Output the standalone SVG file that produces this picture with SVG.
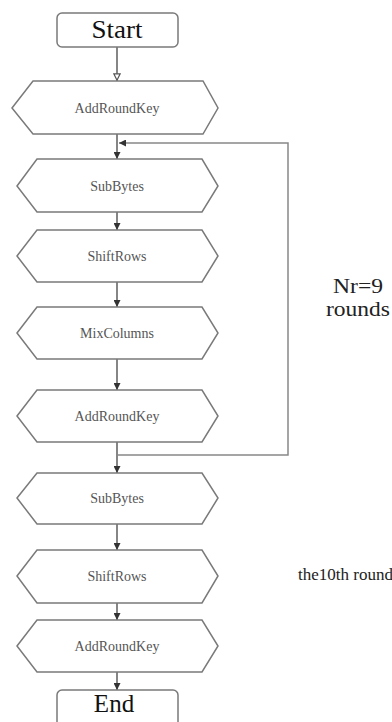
<svg xmlns="http://www.w3.org/2000/svg" width="392" height="722" viewBox="0 0 392 722">
<defs>
<marker id="fill" viewBox="0 0 10 10" refX="10" refY="5" markerWidth="7" markerHeight="7" markerUnits="userSpaceOnUse" orient="auto">
<path d="M0,0 L10,5 L0,10 Z" fill="#333"/>
</marker>
<marker id="hollow" viewBox="0 0 10 10" refX="10" refY="5" markerWidth="8" markerHeight="8" markerUnits="userSpaceOnUse" orient="auto">
<path d="M1,1 L9,5 L1,9 Z" fill="#fff" stroke="#555" stroke-width="1.5"/>
</marker>
<style>
.hex{fill:#fff;stroke:#7a7a7a;stroke-width:1.5}
.term{fill:#fff;stroke:#7a7a7a;stroke-width:1.5}
.lbl{font-size:14px;fill:#555;text-anchor:middle}
.big{font-size:25px;fill:#111;text-anchor:middle}
.side{font-size:21px;fill:#222;text-anchor:middle}
.c{fill:none;stroke:#444;stroke-width:1.3}
.loop{fill:none;stroke:#888;stroke-width:1.5}
</style>
</defs>
<rect width="392" height="722" fill="#fff"/>
<g id="connectors">
<path class="c" d="M117,47 V81" marker-end="url(#hollow)"/>
<path class="c" d="M117,134 V159" marker-end="url(#fill)"/>
<path class="c" d="M117,212 V230" marker-end="url(#fill)"/>
<path class="c" d="M117,282 V307" marker-end="url(#fill)"/>
<path class="c" d="M117,359 V390" marker-end="url(#fill)"/>
<path class="c" d="M117,442 V473" marker-end="url(#fill)"/>
<path class="c" d="M117,524 V550" marker-end="url(#fill)"/>
<path class="c" d="M117,603 V620" marker-end="url(#fill)"/>
<path class="c" d="M117,672 V690" marker-end="url(#fill)"/>
<path class="loop" d="M118,455 H288 V143 H119" marker-end="url(#fill)"/>
</g>
<g font-family="Liberation Serif, DejaVu Serif, Times New Roman, serif">
<g id="start"><rect class="term" x="57" y="13" width="121" height="34" rx="5"/><text class="big" x="117" y="38" textLength="51" lengthAdjust="spacingAndGlyphs">Start</text></g>
<g id="addroundkey1"><polygon class="hex" points="12,108 33,81 203,81 218,108 203,134 33,134"/><text class="lbl" x="117" y="113">AddRoundKey</text></g>
<g id="subbytes1"><polygon class="hex" points="17,186 37,159 202,159 218,186 202,212 37,212"/><text class="lbl" x="117" y="191">SubBytes</text></g>
<g id="shiftrows1"><polygon class="hex" points="17,256 37,230 202,230 218,256 202,282 37,282"/><text class="lbl" x="117" y="261">ShiftRows</text></g>
<g id="mixcolumns"><polygon class="hex" points="17,333 37,307 202,307 218,333 202,359 37,359"/><text class="lbl" x="117" y="338">MixColumns</text></g>
<g id="addroundkey2"><polygon class="hex" points="17,416 37,390 202,390 218,416 202,442 37,442"/><text class="lbl" x="117" y="421">AddRoundKey</text></g>
<g id="subbytes2"><polygon class="hex" points="17,498 37,473 202,473 218,498 202,524 37,524"/><text class="lbl" x="117" y="503">SubBytes</text></g>
<g id="shiftrows2"><polygon class="hex" points="17,576 37,550 202,550 218,576 202,603 37,603"/><text class="lbl" x="117" y="581">ShiftRows</text></g>
<g id="addroundkey3"><polygon class="hex" points="17,646 37,620 202,620 218,646 202,672 37,672"/><text class="lbl" x="117" y="651">AddRoundKey</text></g>
<g id="end"><rect class="term" x="57" y="690" width="121" height="40" rx="5"/><text class="big" x="114" y="712">End</text></g>
<g id="labels">
<text class="side" x="358" y="293" textLength="50" lengthAdjust="spacingAndGlyphs">Nr=9</text>
<text class="side" x="358" y="316" textLength="64" lengthAdjust="spacingAndGlyphs">rounds</text>
<text class="side" x="298" y="580" style="font-size:17px;text-anchor:start">the10th round</text>
</g>
</g>
</svg>
